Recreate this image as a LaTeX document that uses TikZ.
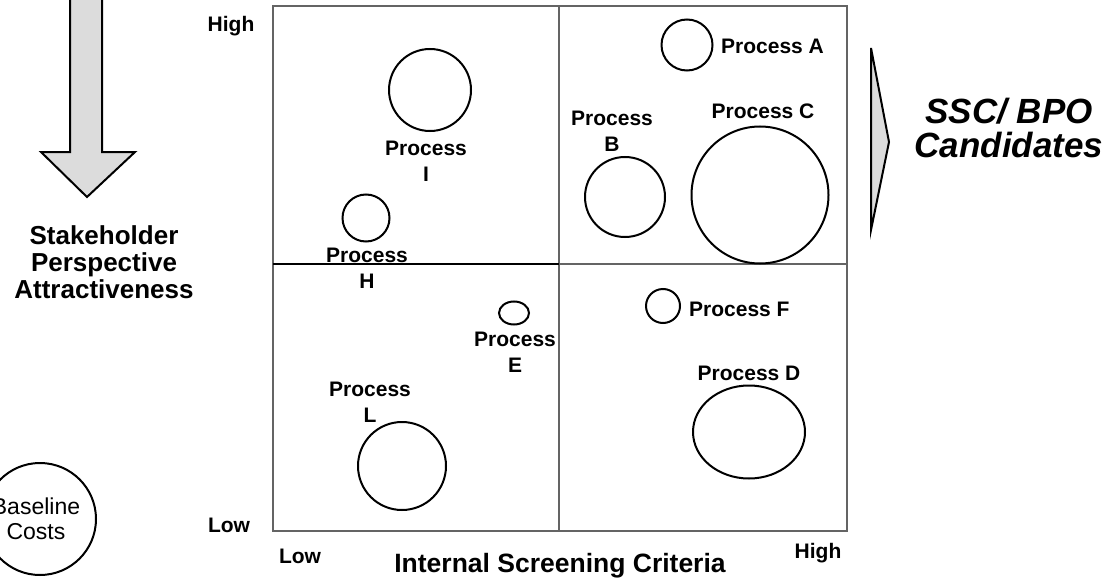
\documentclass[tikz,border=0pt]{standalone}
\usepackage{fontspec}
\setmainfont{Liberation Sans}
\usetikzlibrary{shapes.geometric}
\definecolor{gridgray}{RGB}{100,100,100}
\definecolor{arrowfill}{RGB}{220,220,220}
\begin{document}
\begin{tikzpicture}[x=1pt,y=-1pt,
  bubble/.style={circle,draw=black,line width=2pt,inner sep=0pt},
  oval/.style={ellipse,draw=black,line width=2pt,inner sep=0pt},
  plabel/.style={font=\fontsize{21}{26}\selectfont\bfseries,align=center,inner sep=0pt},
  axlabel/.style={font=\fontsize{21}{24}\selectfont\bfseries,inner sep=0pt},
  biglabel/.style={font=\fontsize{26}{27}\selectfont\bfseries,align=center,inner sep=0pt},
  gridline/.style={draw=gridgray,line width=2.5pt},
  bigarrow/.style={draw=black,fill=arrowfill,line width=2pt,line join=miter}]
\useasboundingbox (0,0) rectangle (1113,583);
% grid
\coordinate (tl) at (273,6);
\coordinate (br) at (847,531);
\coordinate (mt) at (559,6);
\coordinate (mb) at (559,531);
\coordinate (ml) at (273,264);
\coordinate (mm) at (559,264);
\coordinate (mr) at (847,264);
\draw[gridline] (tl) rectangle (br);
\draw[gridline] (mt) -- (mb);
\draw[gridline] (mm) -- (mr);
\draw[draw=black,line width=2.5pt] (ml) -- (mm);
% arrows
\draw[bigarrow] (70,-3) -- (70,152) -- (41,152) -- (87,197) -- (135,152) -- (102,152) -- (102,-3);
\draw[bigarrow] (871,48) -- (889,142) -- (871,230) -- cycle;
% axis labels
\node[axlabel] (yhigh) at (231,26) {High};
\node[axlabel] (ylow) at (229,525) {Low};
\node[axlabel] (xlow) at (300,556) {Low};
\node[axlabel] (xhigh) at (818,553) {High};
\node[font=\fontsize{26.5}{27}\selectfont\bfseries,inner sep=0pt] (xaxis) at (560,566) {Internal Screening Criteria};
\node[biglabel] (yaxis) at (104,262) {Stakeholder\\Perspective\\Attractiveness};
\node[font=\fontsize{35}{34}\selectfont\bfseries\itshape,align=center,inner sep=0pt] (ssc) at (1009,128) {SSC/ BPO\\Candidates};
% baseline circle
\node[bubble,minimum size=112pt] (base) at (40,519) {};
\node[font=\fontsize{23}{25}\selectfont,align=center,inner sep=0pt] (basetxt) at (36,519) {Baseline\\Costs};
% processes
\node[bubble,minimum size=82pt] (cI) at (430,90) {};
\node[plabel] (lI) at (426,161) {Process\\I};
\node[bubble,minimum size=47pt] (cH) at (366,218) {};
\node[plabel] (lH) at (367,268) {Process\\H};
\node[bubble,minimum size=51pt] (cA) at (687,45) {};
\node[plabel,anchor=west] (lA) at (721,46) {Process A};
\node[bubble,minimum size=80pt] (cB) at (625,197) {};
\node[plabel] (lB) at (612,131) {Process\\B};
\node[bubble,minimum size=137pt] (cC) at (760,195) {};
\node[plabel] (lC) at (763,111) {Process C};
\node[oval,minimum width=30pt,minimum height=23pt] (cE) at (514,313) {};
\node[plabel] (lE) at (515,352) {Process\\E};
\node[bubble,minimum size=88pt] (cL) at (402,466) {};
\node[plabel] (lL) at (370,402) {Process\\L};
\node[bubble,minimum size=34pt] (cF) at (663,306) {};
\node[plabel,anchor=west] (lF) at (689,309) {Process F};
\node[oval,minimum width=112pt,minimum height=93pt] (cD) at (749,432) {};
\node[plabel] (lD) at (749,373) {Process D};
\end{tikzpicture}
\end{document}
